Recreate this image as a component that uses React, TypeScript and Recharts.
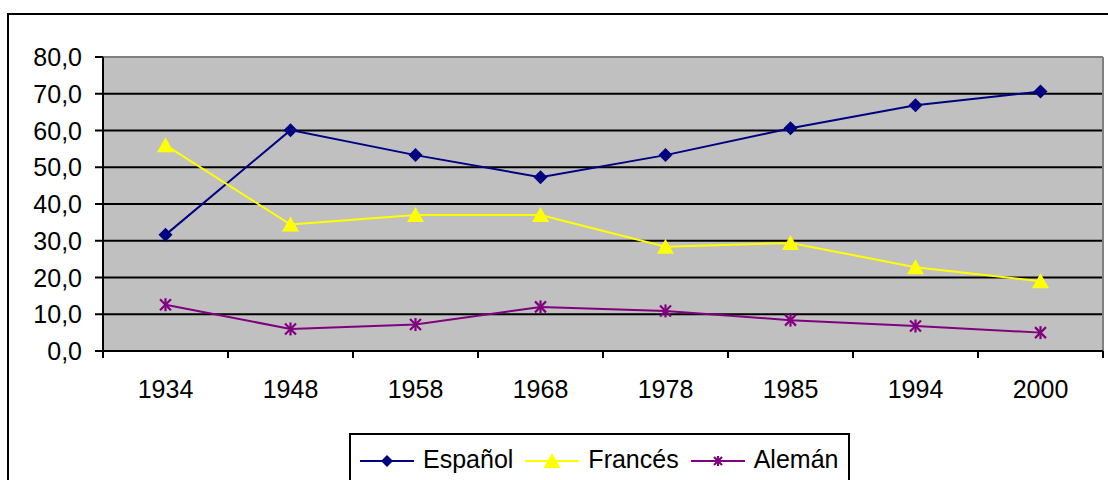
import { LineChart, Line, XAxis, YAxis, CartesianGrid } from "recharts";

const YEARS = ["1934", "1948", "1958", "1968", "1978", "1985", "1994", "2000"];
const ESPANOL = [31.6, 60.1, 53.3, 47.3, 53.3, 60.6, 66.9, 70.6];
const FRANCES = [56.0, 34.4, 37.0, 37.0, 28.4, 29.4, 22.8, 19.0];
const ALEMAN = [12.6, 6.0, 7.2, 12.0, 10.9, 8.4, 6.8, 5.0];
const Y_TICKS = [0, 10, 20, 30, 40, 50, 60, 70, 80];

const data = YEARS.map((year, i) => ({
  year,
  espanol: ESPANOL[i],
  frances: FRANCES[i],
  aleman: ALEMAN[i],
}));

const W = 1108;
const H = 480;
const PLOT_LEFT = 103;
const PLOT_RIGHT = 1103;
const BAND = (PLOT_RIGHT - PLOT_LEFT) / YEARS.length;
const FONT = '"Liberation Sans", Arial, sans-serif';
const FS = 25;
const NAVY = "#000080";
const YELLOW = "#FFFF00";
const PURPLE = "#800080";

const fmt = (v: number) => v.toFixed(1).replace(".", ",");

const YTick = ({ x, y, payload }: any) => (
  <text x={x} y={y} textAnchor="end" dominantBaseline="central" fontSize={FS} fontFamily={FONT} fill="#000">
    {fmt(payload.value)}
  </text>
);

const XTick = ({ x, y, payload, index }: any) => (
  <g>
    <line x1={x - BAND / 2} x2={x - BAND / 2} y1={y} y2={y + 7} stroke="#000" strokeWidth={2} />
    {index === YEARS.length - 1 && (
      <line x1={x + BAND / 2} x2={x + BAND / 2} y1={y} y2={y + 7} stroke="#000" strokeWidth={2} />
    )}
    <text x={x} y={y + 38} textAnchor="middle" dominantBaseline="central" fontSize={FS} fontFamily={FONT} fill="#000">
      {payload.value}
    </text>
  </g>
);

const Diamond = ({ cx, cy, r = 7 }: any) => (
  <polygon points={`${cx},${cy - r} ${cx + r},${cy} ${cx},${cy + r} ${cx - r},${cy}`} fill={NAVY} />
);

const Triangle = ({ cx, cy }: any) => (
  <polygon points={`${cx},${cy - 8} ${cx + 8.5},${cy + 7} ${cx - 8.5},${cy + 7}`} fill={YELLOW} />
);

const Star = ({ cx, cy, r = 5.5 }: any) => (
  <g stroke={PURPLE} strokeWidth={2.2}>
    <line x1={cx - r} y1={cy - r} x2={cx + r} y2={cy + r} />
    <line x1={cx - r} y1={cy + r} x2={cx + r} y2={cy - r} />
    <line x1={cx} y1={cy - r - 1} x2={cx} y2={cy + r + 1} />
  </g>
);

const LegendItem = ({ color, label, marker }: any) => (
  <div style={{ display: "flex", alignItems: "center" }}>
    <svg width={54} height={20} style={{ marginRight: 9 }}>
      <line x1={0} x2={54} y1={11} y2={11} stroke={color} strokeWidth={2} />
      {marker}
    </svg>
    <span style={{ fontSize: FS, fontFamily: FONT, color: "#000" }}>{label}</span>
  </div>
);

export default function App() {
  return (
    <div style={{ position: "absolute", left: 0, top: 0, width: W, height: H, overflow: "hidden", background: "#fff" }}>
      <div
        style={{
          position: "absolute",
          left: 7,
          top: 13,
          width: 1110,
          height: 500,
          border: "2px solid #000",
        }}
      />
      <div style={{ position: "absolute", left: 0, top: 0 }}>
        <LineChart width={W} height={H} data={data} margin={{ top: 57, right: 5, bottom: 0, left: 0 }}>
          <CartesianGrid fill="#C0C0C0" stroke="#000" strokeWidth={2} vertical={false} />
          <CartesianGrid
            stroke="#808080"
            strokeWidth={2}
            horizontalCoordinatesGenerator={({ offset }: any) => [offset.top]}
            verticalCoordinatesGenerator={({ offset }: any) => [offset.left + offset.width]}
          />
          <XAxis
            dataKey="year"
            scale="band"
            height={129}
            tickLine={false}
            tickSize={0}
            tickMargin={0}
            axisLine={{ stroke: "#000", strokeWidth: 2 }}
            tick={<XTick />}
            interval={0}
          />
          <YAxis
            width={103}
            domain={[0, 80]}
            ticks={Y_TICKS}
            tickSize={8}
            tickMargin={13}
            tickLine={{ stroke: "#000", strokeWidth: 2 }}
            axisLine={{ stroke: "#000", strokeWidth: 2 }}
            tick={<YTick />}
            interval={0}
          />
          <Line
            dataKey="espanol"
            stroke={NAVY}
            strokeWidth={2}
            isAnimationActive={false}
            activeDot={false}
            dot={(p: any) => <Diamond key={p.index} cx={p.cx} cy={p.cy} />}
          />
          <Line
            dataKey="frances"
            stroke={YELLOW}
            strokeWidth={2}
            isAnimationActive={false}
            activeDot={false}
            dot={(p: any) => <Triangle key={p.index} cx={p.cx} cy={p.cy} />}
          />
          <Line
            dataKey="aleman"
            stroke={PURPLE}
            strokeWidth={2}
            isAnimationActive={false}
            activeDot={false}
            dot={(p: any) => <Star key={p.index} cx={p.cx} cy={p.cy} />}
          />
        </LineChart>
      </div>
      <div
        style={{
          position: "absolute",
          left: 349,
          top: 433,
          width: 501,
          height: 60,
          border: "2px solid #000",
          background: "#fff",
          display: "flex",
          alignItems: "flex-start",
          paddingTop: 10,
          paddingLeft: 9,
          boxSizing: "border-box",
          gap: 12,
        }}
      >
        <LegendItem color={NAVY} label="Español" marker={<Diamond cx={27} cy={11} r={6} />} />
        <LegendItem color={YELLOW} label="Francés" marker={<Triangle cx={27} cy={11} />} />
        <LegendItem color={PURPLE} label="Alemán" marker={<Star cx={27} cy={11} r={4} />} />
      </div>
    </div>
  );
}
